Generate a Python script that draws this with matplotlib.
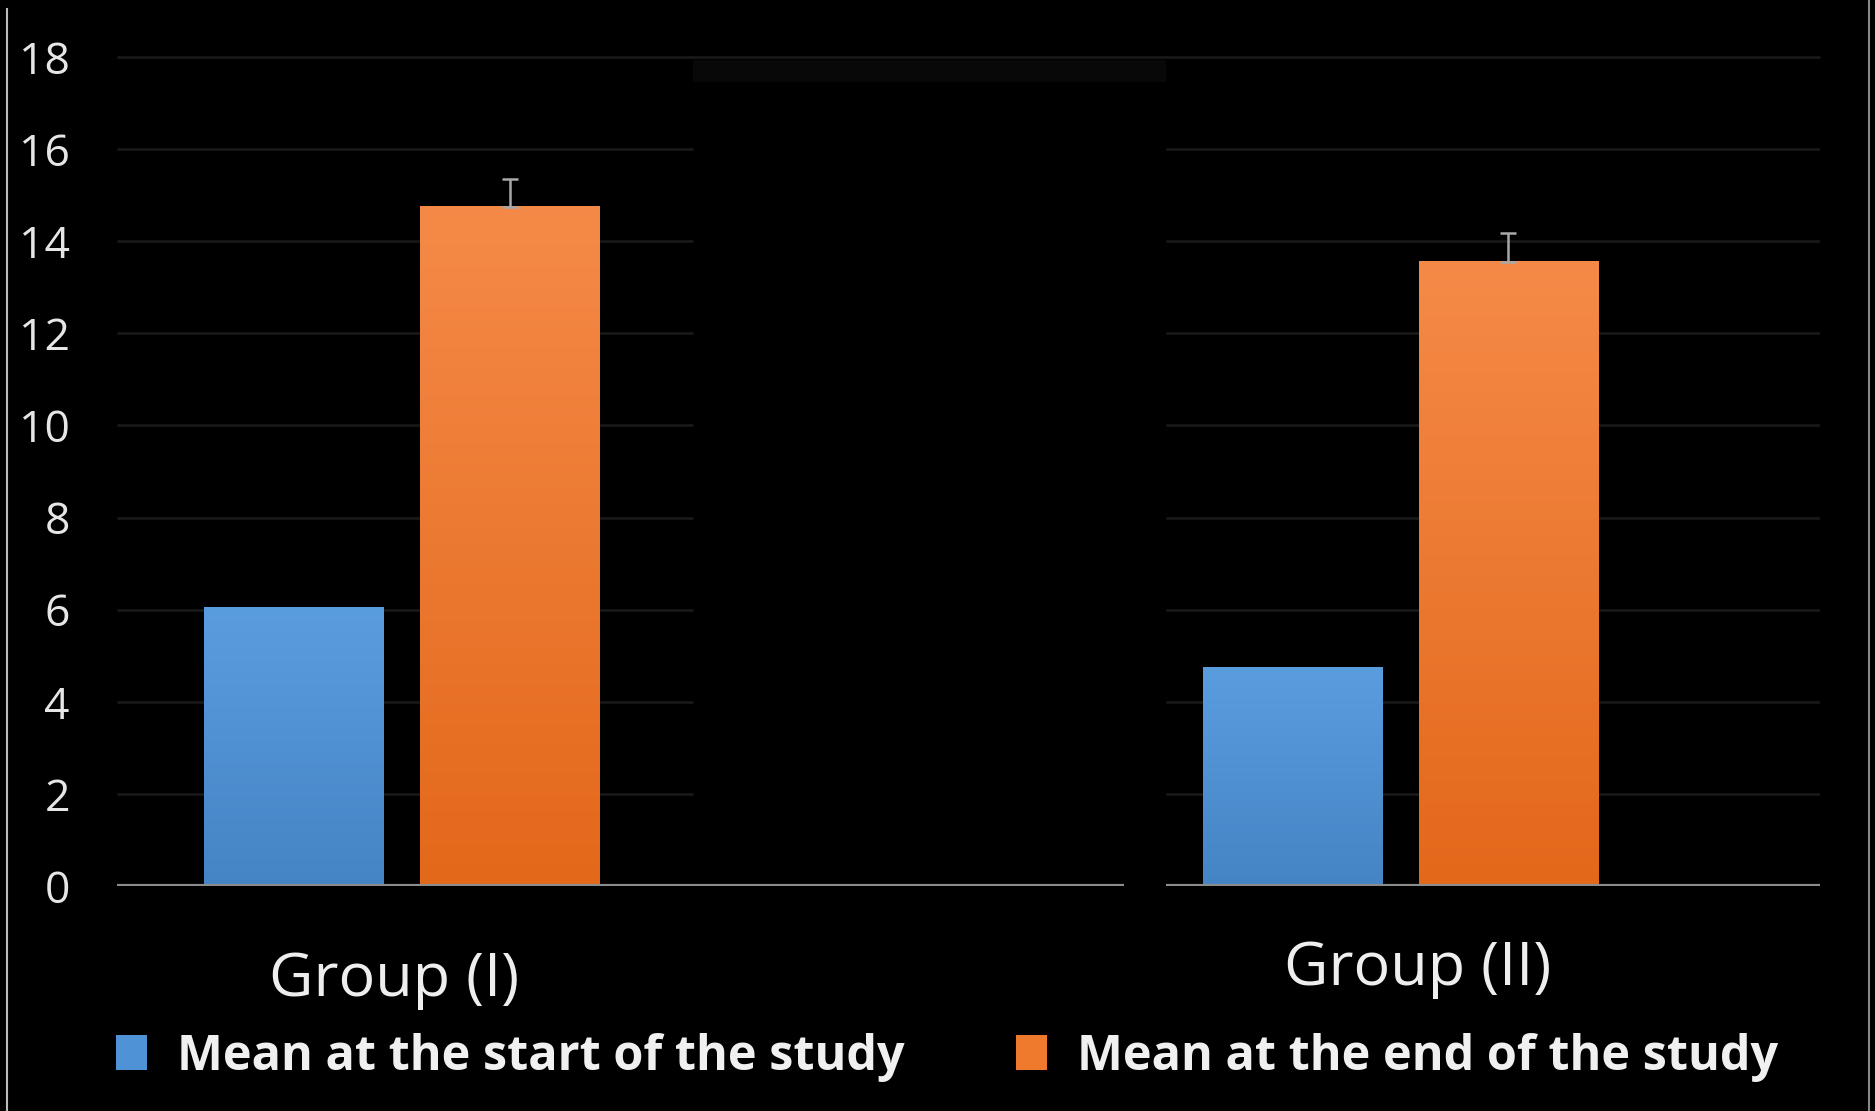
import numpy as np
import matplotlib.pyplot as plt
from matplotlib.patches import Patch, Rectangle
from matplotlib.lines import Line2D
from matplotlib.colors import LinearSegmentedColormap
import matplotlib.transforms as mtransforms

plt.rcParams['font.family'] = ['Open Sans', 'DejaVu Sans']

groups = ['Group (I)', 'Group (II)']
series = ['Mean at the start of the study', 'Mean at the end of the study']
start_mean = [6.05, 4.75]
end_mean = [14.75, 13.55]
end_err = [0.6, 0.62]
yticks = [0, 2, 4, 6, 8, 10, 12, 14, 16, 18]

x = np.arange(len(groups))
w = 0.18
off = 0.108
xmin, xmax = -0.285, 1.42

blue_top, blue_bot = '#5a9ddf', '#4584c5'
orange_top, orange_bot = '#f58a48', '#e3681a'

fig = plt.figure(figsize=(18.75, 11.11), dpi=100, facecolor='black')
ax = fig.add_axes([0.0624, 0.2025, 0.9083, 0.7462])
ax.set_facecolor('black')

# gridlines (middle part of the chart is blanked out in the original)
for y in yticks[1:-1]:
    ax.hlines([y, y], [xmin, 0.765], [0.292, xmax], color='#181818', lw=2, zorder=1)
ax.hlines(18, xmin, xmax, color='#181818', lw=2, zorder=1, clip_on=False)
ax.add_patch(Rectangle((0.292, 17.46), 0.473, 0.48, color='#080808', lw=0, zorder=1))

b1 = ax.bar(x - off, start_mean, w, color=blue_bot, zorder=2)
b2 = ax.bar(x + off, end_mean, w, color=orange_bot, zorder=2)

grad = np.linspace(0, 1, 256).reshape(-1, 1)
for bars, c0, c1 in [(b1, blue_bot, blue_top), (b2, orange_bot, orange_top)]:
    cmap = LinearSegmentedColormap.from_list('g', [c0, c1])
    for b in bars:
        ax.imshow(grad, cmap=cmap, origin='lower', aspect='auto', zorder=3,
                  extent=[b.get_x(), b.get_x() + b.get_width(), 0, b.get_height()])

ax.errorbar(x + off, end_mean, yerr=[np.zeros(len(x)), end_err], fmt='none',
            ecolor='#a8a8a8', elinewidth=1.8, capsize=6, capthick=1.8, zorder=5)

ax.hlines([0, 0], [xmin, 0.765], [0.723, xmax], color='#8c8c8c', lw=3, zorder=4)

ax.set_xlim(xmin, xmax)
ax.set_ylim(0, 18)
for s in ax.spines.values():
    s.set_visible(False)
ax.set_xticks([])
ax.set_yticks(yticks)
ax.tick_params(axis='y', length=0, pad=34, labelsize=32, labelcolor='#e6e6e6')

trans = mtransforms.blended_transform_factory(ax.transData, fig.transFigure)
for xi, lab, fy in zip([-0.008, 1.017], groups, [0.118, 0.128]):
    ax.text(xi, fy, lab, transform=trans, ha='center', va='center',
            fontsize=44, color='#eeeeee')

handles = [Patch(facecolor='#4f93d6'), Patch(facecolor='#ef7a2e')]
fig.legend(handles, series, loc='center', bbox_to_anchor=(0.505, 0.0486), ncol=2,
           frameon=False, prop=dict(family='Open Sans', weight='bold', size=35),
           handlelength=0.64, handleheight=0.7, handletextpad=0.62,
           columnspacing=2.28, labelcolor='#f0f0f0')

fig.add_artist(Line2D([7 / 1875] * 2, [0, 1 - 9 / 1111], transform=fig.transFigure,
                      color='#bbbbbb', lw=1.5))
fig.add_artist(Line2D([1869 / 1875] * 2, [0, 1], transform=fig.transFigure,
                      color='#888888', lw=1.5))

fig.savefig('out.png', dpi=100, facecolor='black')
